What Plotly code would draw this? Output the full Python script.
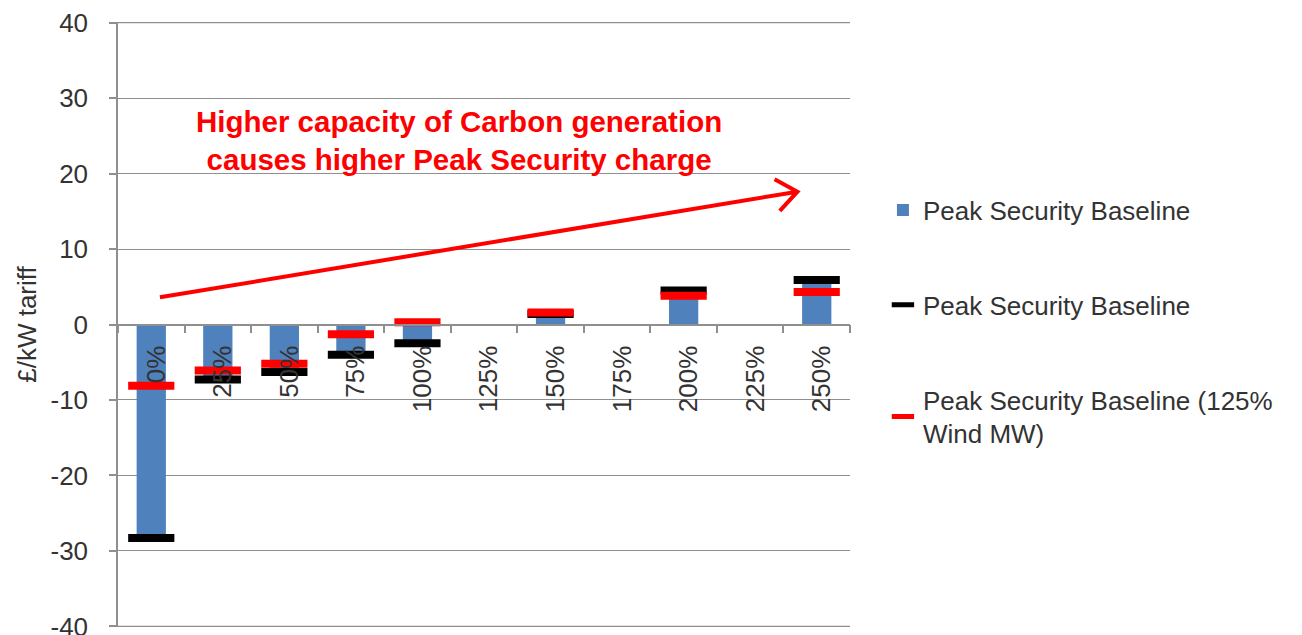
import math
import plotly.graph_objects as go

# Carbon generation capacity scenarios (category axis)
categories = ["0%", "25%", "50%", "75%", "100%", "125%", "150%", "175%", "200%", "225%", "250%"]

# Peak Security tariff, £/kW (None where a scenario was not run)
baseline_bar = [-28.3, -7.3, -6.3, -4.0, -2.5, None, 1.4, None, 4.5, None, 5.9]
baseline_marker = [-28.3, -7.3, -6.3, -4.0, -2.5, None, 1.4, None, 4.5, None, 5.9]
wind125_marker = [-8.1, -6.1, -5.2, -1.3, 0.3, None, 1.6, None, 3.8, None, 4.3]

y_ticks = [-40, -30, -20, -10, 0, 10, 20, 30, 40]
y_tick_text = ["-40", "-30", "-20", "-10", "0", "10", "20", "30", "40"]

BLUE = "#4F81BD"
GRID = "#8f8f8f"
TEXT = "#333333"
FONT = "Liberation Sans, Arial, sans-serif"

# plot area in pixels (used to build the arrow head in data units)
W, H = 1302, 635
M_L, M_R, M_T, M_B = 118, 452, 22, 8
Y_LO, Y_HI = -40.08, 40.08
plot_w = W - M_L - M_R
plot_h = H - M_T - M_B
x_px = plot_w / len(categories)
y_px = plot_h / (Y_HI - Y_LO)

fig = go.Figure()

fig.add_trace(go.Bar(
    x=categories, y=baseline_bar, name="Peak Security Baseline",
    marker=dict(color=BLUE, line=dict(width=0)), width=0.44,
    legendgroup="a",
))
fig.add_trace(go.Scatter(
    x=categories, y=baseline_marker, name="Peak Security Baseline",
    mode="markers",
    marker=dict(symbol="line-ew", size=33, color="#000000",
                line=dict(width=8, color="#000000")),
    legendgroup="b",
))
fig.add_trace(go.Scatter(
    x=categories, y=wind125_marker, name="Peak Security Baseline (125%<br>Wind MW)",
    mode="markers",
    marker=dict(symbol="line-ew", size=33, color="#FF0000",
                line=dict(width=8, color="#FF0000")),
    legendgroup="c",
))

# outermost gridlines (top and bottom of the value range)
for yv in (y_ticks[0], y_ticks[-1]):
    fig.add_shape(type="line", xref="paper", yref="y", x0=0, x1=1, y0=yv, y1=yv,
                  line=dict(color=GRID, width=1.3), layer="below")

# trend arrow (start / end in axis units) with an open V head
ax0, ay0 = 0.13, 3.6
ax1, ay1 = 9.71, 17.6
dxp = (ax1 - ax0) * x_px
dyp = (ay1 - ay0) * y_px
ang = math.atan2(dyp, dxp)
arm = 26
heads = []
for s in (1, -1):
    a = ang + math.pi - s * math.radians(38)
    heads.append((ax1 + arm * math.cos(a) / x_px, ay1 + arm * math.sin(a) / y_px))
path = (f"M {ax0},{ay0} L {ax1},{ay1} "
        f"M {heads[0][0]},{heads[0][1]} L {ax1},{ay1} L {heads[1][0]},{heads[1][1]}")
fig.add_shape(type="path", path=path, xref="x", yref="y",
              line=dict(color="#FF0000", width=4))

fig.add_annotation(
    x=4.63, y=24.4, xref="x", yref="y", showarrow=False,
    text="Higher capacity of Carbon generation<br>causes higher Peak Security charge",
    font=dict(family=FONT, size=29.5, color="#FF0000", weight="bold"),
    align="center",
)

fig.update_layout(
    width=W, height=H,
    margin=dict(l=M_L, r=M_R, t=M_T, b=M_B, autoexpand=False),
    paper_bgcolor="white", plot_bgcolor="white",
    barmode="overlay",
    font=dict(family=FONT, color=TEXT),
    showlegend=True,
    legend=dict(
        x=1.045, y=0.728, xanchor="left", yanchor="top",
        font=dict(family=FONT, size=26, color=TEXT),
        traceorder="grouped", tracegroupgap=58,
        bgcolor="rgba(0,0,0,0)",
    ),
    xaxis=dict(
        type="category", categoryorder="array", categoryarray=categories,
        anchor="free", position=0.5, automargin=False,
        showline=True, linecolor=GRID, linewidth=1.5,
        ticks="outside", ticklen=8, tickcolor=GRID, tickwidth=1.5,
        tickson="boundaries",
        tickangle=-90, ticklabelstandoff=10, ticklabelshift=5,
        tickfont=dict(family=FONT, size=26, color=TEXT),
        showgrid=False, zeroline=False,
        range=[-0.5, len(categories) - 0.5],
    ),
    yaxis=dict(
        range=[Y_LO, Y_HI], tickvals=y_ticks, ticktext=y_tick_text,
        automargin=False,
        showline=True, linecolor=GRID, linewidth=1.5,
        ticks="outside", ticklen=7, tickcolor=GRID, tickwidth=1.5,
        ticklabelstandoff=16, ticklabeloverflow="allow",
        tickfont=dict(family=FONT, size=26, color=TEXT),
        showgrid=True, gridcolor=GRID, gridwidth=1.3,
        zeroline=False,
        title=dict(text="£/kW tariff", font=dict(family=FONT, size=26, color=TEXT),
                   standoff=6),
    ),
)

fig.write_html("out.html")
